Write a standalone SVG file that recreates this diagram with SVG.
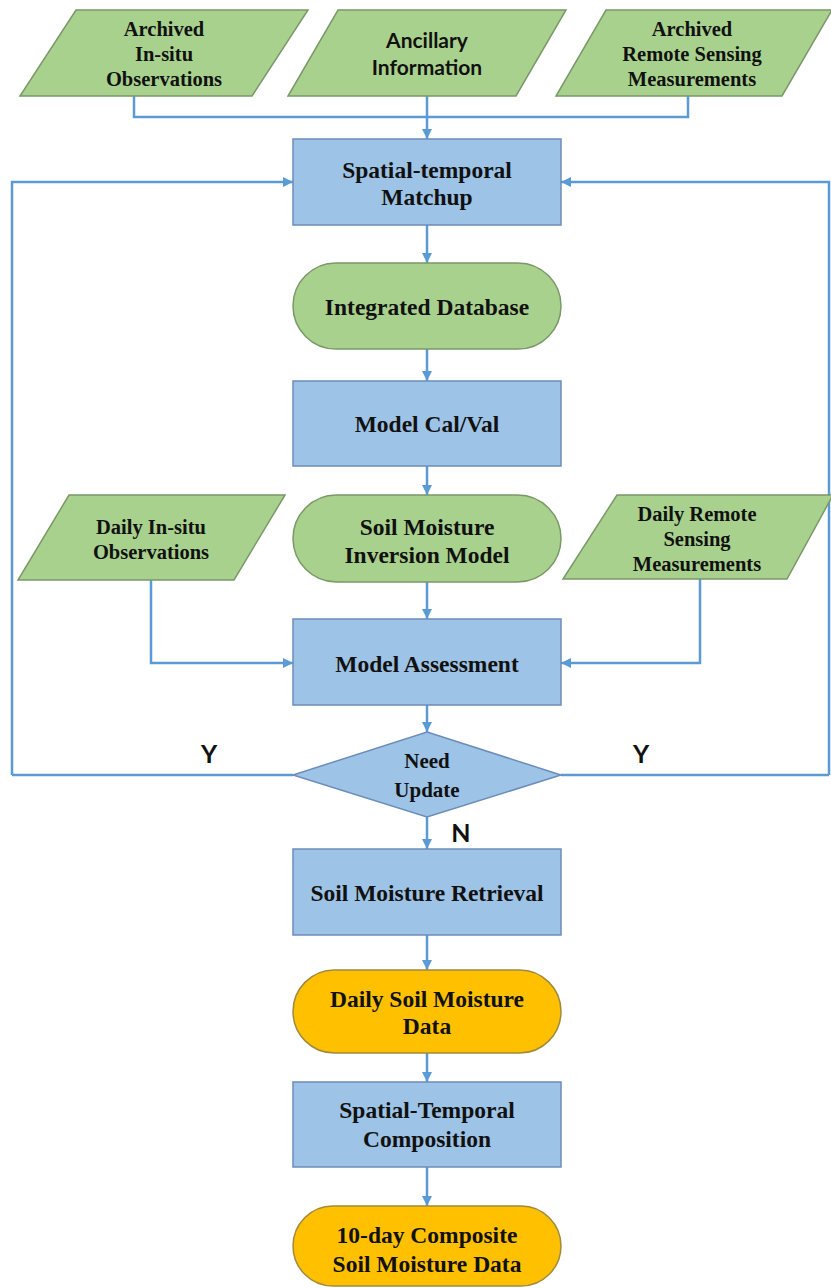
<svg xmlns="http://www.w3.org/2000/svg" width="831" height="1288" viewBox="0 0 831 1288">
<style>
.green{fill:#A9D18E;stroke:#7A9868;stroke-width:1.5}
.blue{fill:#9DC3E6;stroke:#6C8DBA;stroke-width:1.5}
.orange{fill:#FFC000;stroke:#A08A3C;stroke-width:1.5}
.t{font-family:"Liberation Serif","Times New Roman",serif;font-weight:bold;fill:#111;text-anchor:middle}
.m{font-size:23.5px}
.s{font-size:20.5px}
.d{font-size:21px}
.c{font-family:Lato,"Liberation Sans",sans-serif;font-weight:bold;fill:#111;text-anchor:middle}
.conn{fill:none;stroke:#5B9BD5;stroke-width:2.5}
</style>
<defs>
<marker id="ah" markerUnits="userSpaceOnUse" markerWidth="10" markerHeight="10" viewBox="0 0 10 10" refX="10" refY="5" orient="auto">
<path d="M0,0 L10,5 L0,10 z" fill="#5B9BD5"/>
</marker>
</defs>
<rect width="831" height="1288" fill="#fff"/>
<g id="connectors">
<path class="conn" d="M134,96 V117 H688 V96"/>
<path class="conn" d="M427,96 V139" marker-end="url(#ah)"/>
<path class="conn" d="M12,775 V182 H293" marker-end="url(#ah)"/>
<path class="conn" d="M829,775 V182 H561" marker-end="url(#ah)"/>
<path class="conn" d="M427,225 V263" marker-end="url(#ah)"/>
<path class="conn" d="M427,349 V381" marker-end="url(#ah)"/>
<path class="conn" d="M427,466 V495" marker-end="url(#ah)"/>
<path class="conn" d="M427,582 V619" marker-end="url(#ah)"/>
<path class="conn" d="M151,580 V663 H293" marker-end="url(#ah)"/>
<path class="conn" d="M700,579 V663 H561" marker-end="url(#ah)"/>
<path class="conn" d="M427,705 V732" marker-end="url(#ah)"/>
<path class="conn" d="M293,775 H12"/>
<path class="conn" d="M561,775 H829"/>
<path class="conn" d="M427,817 V849" marker-end="url(#ah)"/>
<path class="conn" d="M427,935 V970" marker-end="url(#ah)"/>
<path class="conn" d="M427,1053 V1082" marker-end="url(#ah)"/>
<path class="conn" d="M427,1167 V1206" marker-end="url(#ah)"/>
<text class="c" x="209" y="763" font-size="25">Y</text>
<text class="c" x="641" y="763" font-size="25">Y</text>
<text class="c" x="461" y="842" font-size="25">N</text>
</g>
<g id="archived-insitu">
<polygon class="green" points="76,10 308,10 252,96 20,96"/>
<text class="t s" x="164" y="36">Archived</text>
<text class="t s" x="164" y="61">In-situ</text>
<text class="t s" x="164" y="86">Observations</text>
</g>
<g id="ancillary">
<polygon class="green" points="338,10 566,10 516,96 288,96"/>
<text class="c" x="427" y="48" font-size="21">Ancillary</text>
<text class="c" x="427" y="75" font-size="21">Information</text>
</g>
<g id="archived-rs">
<polygon class="green" points="606,10 832,10 782,96 556,96"/>
<text class="t s" x="692" y="36">Archived</text>
<text class="t s" x="692" y="61">Remote Sensing</text>
<text class="t s" x="692" y="86">Measurements</text>
</g>
<g id="matchup">
<rect class="blue" x="293" y="139" width="268" height="86"/>
<text class="t m" x="427" y="178">Spatial-temporal</text>
<text class="t m" x="427" y="205">Matchup</text>
</g>
<g id="integrated-db">
<rect class="green" x="293" y="263" width="268" height="86" rx="43"/>
<text class="t m" x="427" y="315">Integrated Database</text>
</g>
<g id="calval">
<rect class="blue" x="293" y="381" width="268" height="85"/>
<text class="t m" x="427" y="432">Model Cal/Val</text>
</g>
<g id="daily-insitu">
<polygon class="green" points="69,495 285,495 234,580 18,580"/>
<text class="t s" x="151" y="534">Daily In-situ</text>
<text class="t s" x="151" y="559">Observations</text>
</g>
<g id="inversion-model">
<rect class="green" x="293" y="495" width="268" height="87" rx="43.5"/>
<text class="t m" x="427" y="535">Soil Moisture</text>
<text class="t m" x="427" y="563">Inversion Model</text>
</g>
<g id="daily-rs">
<polygon class="green" points="617,495 833,495 787,579 563,579"/>
<text class="t s" x="697" y="521">Daily Remote</text>
<text class="t s" x="697" y="546">Sensing</text>
<text class="t s" x="697" y="571">Measurements</text>
</g>
<g id="assessment">
<rect class="blue" x="293" y="619" width="268" height="86"/>
<text class="t m" x="427" y="672">Model Assessment</text>
</g>
<g id="need-update">
<polygon class="blue" points="427,732 561,775 427,817 293,775"/>
<text class="t d" x="427" y="768">Need</text>
<text class="t d" x="427" y="797">Update</text>
</g>
<g id="retrieval">
<rect class="blue" x="293" y="849" width="268" height="86"/>
<text class="t m" x="427" y="901">Soil Moisture Retrieval</text>
</g>
<g id="daily-data">
<rect class="orange" x="293" y="970" width="268" height="83" rx="41.5"/>
<text class="t m" x="427" y="1007">Daily Soil Moisture</text>
<text class="t m" x="427" y="1034">Data</text>
</g>
<g id="composition">
<rect class="blue" x="293" y="1082" width="268" height="85"/>
<text class="t m" x="427" y="1118">Spatial-Temporal</text>
<text class="t m" x="427" y="1147">Composition</text>
</g>
<g id="composite-data">
<rect class="orange" x="293" y="1206" width="268" height="80" rx="40"/>
<text class="t m" x="427" y="1243">10-day Composite</text>
<text class="t m" x="427" y="1272">Soil Moisture Data</text>
</g>
</svg>
